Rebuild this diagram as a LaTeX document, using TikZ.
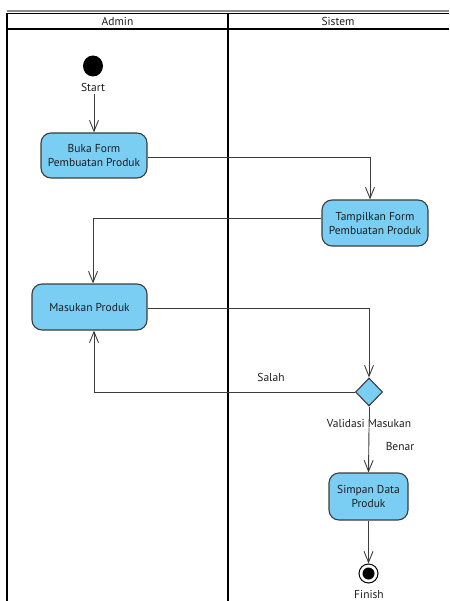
\documentclass[tikz,border=0pt]{standalone}
\usepackage{fontspec}
\setmainfont{PT Sans}
\usetikzlibrary{arrows.meta,shapes.geometric}
\definecolor{actfill}{RGB}{122,206,244}
\definecolor{actline}{RGB}{60,60,60}
\definecolor{txt}{RGB}{30,30,30}
\tikzset{
  x=1pt,y=-1pt,
  lane/.style={line width=1.6pt,black},
  act/.style={draw=actline,line width=1.1pt,fill=actfill,rounded corners=10pt,align=center,text=txt,font=\fontsize{11.5}{14}\selectfont,inner sep=0pt},
  flow/.style={draw=actline,line width=0.9pt,-{Straight Barb[length=11pt,width=9pt,line width=0.9pt]}},
  lbl/.style={font=\fontsize{11.5}{13}\selectfont,text=txt,inner sep=0pt},
  dec/.style={diamond,draw=actline,line width=1.1pt,fill=actfill,minimum width=27pt,minimum height=28pt,inner sep=0pt}
}
\begin{document}
\begin{tikzpicture}
\useasboundingbox (0,0) rectangle (449,601);
% swimlane frame
\draw[line width=1.2pt,black!45] (7,11) -- (449,11);
\draw[lane] (7,601) -- (7,13.5) -- (449,13.5);
\draw[lane] (7,29) -- (449,29);
\draw[lane] (228,13.5) -- (228,601);
\node[lbl] (hadmin) at (117.5,21) {Admin};
\node[lbl] (hsistem) at (338,21) {Sistem};
% nodes
\node[ellipse,fill=black,inner sep=0pt,minimum width=20pt,minimum height=21pt] (start) at (93,66) {};
\node[lbl] (startl) at (93,87) {Start};
\node[act,minimum width=106pt,minimum height=45pt] (buka) at (94,155.5) {Buka Form\\Pembuatan Produk};
\node[act,minimum width=106pt,minimum height=46pt] (tampil) at (375,223) {Tampilkan Form\\Pembuatan Produk};
\node[act,minimum width=115pt,minimum height=46pt] (masuk) at (89.5,307) {Masukan Produk};
\node[dec] (valid) at (369,392) {};
\node[lbl] (validl) at (369,423) {Validasi Masukan};
\node[act,minimum width=79pt,minimum height=47pt] (simpan) at (368.5,496.5) {Simpan Data\\Produk};
\node[circle,draw=black,line width=1pt,fill=white,minimum size=19pt,inner sep=0pt] (finish) at (368.5,573.5) {};
\node[circle,fill=black,minimum size=12pt,inner sep=0pt] (finishin) at (finish.center) {};
\node[lbl] (finishl) at (369,594) {Finish};
\coordinate (c1) at (370,157);
\coordinate (c2) at (93,218);
\coordinate (c3) at (369,308);
\coordinate (c4) at (94,393);
% flows
\draw[flow,shorten <=3pt] (startl.south -| buka.north) -- (buka.north);
\draw[flow] (buka.east |- c1) -| (c1 |- tampil.north);
\draw[flow] (tampil.west |- c2) -| (c2 |- masuk.north);
\draw[flow] (masuk.east |- c3) -| (valid.north);
\draw[flow] (valid.west) -| (c4 |- masuk.south);
\node[lbl] (salah) at (271,377) {Salah};
\draw[draw=actline,line width=0.9pt] (valid.south) -- (validl.north);
\draw[flow] (validl.south) -- (simpan.north);
\node[lbl] (benar) at (400,446) {Benar};
\draw[flow] (simpan.south) -- (finish.north);
\end{tikzpicture}
\end{document}
